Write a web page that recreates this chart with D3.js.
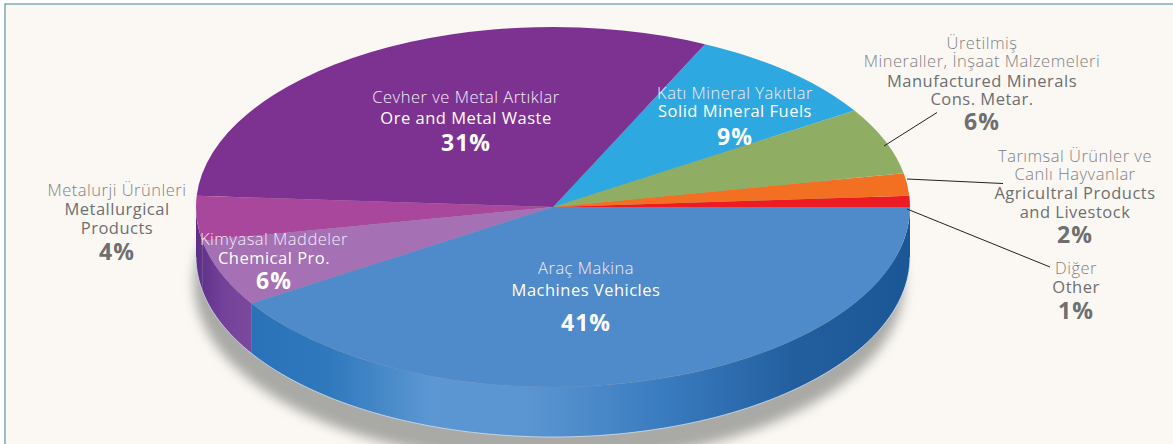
<!DOCTYPE html>
<html><head><meta charset="utf-8">
<style>html,body{margin:0;padding:0;background:#fff}svg{display:block}text{font-family:"Open Sans",Lato,sans-serif;text-anchor:middle}</style>
<script src="https://cdn.jsdelivr.net/npm/d3@7"></script></head>
<body><svg id="c" width="1173" height="444"></svg>
<script>
// Data, in drawing order (counter-clockwise from the right-hand edge)
const categories = ["Other","Agricultral Products and Livestock","Manufactured Minerals Cons. Metar.","Solid Mineral Fuels","Ore and Metal Waste","Metallurgical Products","Chemical Pro.","Machines Vehicles"];
const shares = [1,2,6,9,31,4,6,41];
const localNames = [["Diğer"],["Tarımsal Ürünler ve","Canlı Hayvanlar"],["Üretilmiş","Mineraller, İnşaat Malzemeleri"],["Katı Mineral Yakıtlar"],["Cevher ve Metal Artıklar"],["Metalurji Ürünleri"],["Kimyasal Maddeler"],["Araç Makina"]];
const englishNames = [["Other"],["Agricultral Products","and Livestock"],["Manufactured Minerals","Cons. Metar."],["Solid Mineral Fuels"],["Ore and Metal Waste"],["Metallurgical","Products"],["Chemical Pro."],["Machines Vehicles"]];
const sliceColors = ["#ed1c24","#f37021","#8fad63","#2fa8e1","#7d3192","#a9479c","#a56fb4","#4f8aca"];

const svg = d3.select("#c");
const W = 1173, H = 444, cx = 553, cy = 207, rx = 357, ry = 180, depth = 50;

// background & frame
svg.append("rect").attr("x",5).attr("y",4).attr("width",W).attr("height",H).attr("fill","#fbf8f3").attr("stroke","#5f98a3").attr("stroke-width",1.2);

const defs = svg.append("defs");
defs.append("filter").attr("id","shadowBlur").attr("filterUnits","userSpaceOnUse")
  .attr("x",100).attr("y",0).attr("width",950).attr("height",444+100)
  .append("feGaussianBlur").attr("stdDeviation",6);
defs.append("filter").attr("id","soft").append("feGaussianBlur").attr("stdDeviation",0.5);
const grad = (id,stops,x1,x2)=>{
  const g = defs.append("linearGradient").attr("id",id).attr("gradientUnits","userSpaceOnUse")
    .attr("x1",x1).attr("x2",x2).attr("y1",0).attr("y2",0);
  stops.forEach(s=>g.append("stop").attr("offset",s[0]).attr("stop-color",s[1]));
};
grad("wallBlue",[[0,"#2a72b8"],[0.12,"#3079bd"],[0.27,"#5c97d3"],[0.42,"#5a95d1"],[0.62,"#3a7cc0"],[0.82,"#235f9f"],[1,"#1b5797"]],252,911);
grad("wallPurple",[[0,"#5d2f86"],[0.5,"#75429a"],[1,"#7a4a9e"]],197,252);

// shadow
svg.append("ellipse").attr("cx",cx-4).attr("cy",cy+depth+26).attr("rx",rx-2).attr("ry",ry)
  .attr("fill","#a9a9a5").attr("filter","url(#shadowBlur)");

// pie layout: starts at the right-hand edge and runs counter-clockwise
const pie = d3.pie().value(d=>d).sort(null).startAngle(Math.PI/2).endAngle(Math.PI/2-2*Math.PI);
const slices = pie(shares);
const arc = d3.arc().innerRadius(0).outerRadius(rx);
const px = a => cx + rx*Math.sin(a), py = a => cy - ry*Math.cos(a);

// side wall: only the front half of the ellipse is visible
const wall = (a0,a1) => {
  const n = 60, pts = d3.range(n+1).map(i=>a0+(a1-a0)*i/n);
  const p = d3.path();
  pts.forEach((a,i)=> i? p.lineTo(px(a),py(a)) : p.moveTo(px(a),py(a)));
  pts.slice().reverse().forEach(a=>p.lineTo(px(a),py(a)+depth));
  p.closePath();
  return p.toString();
};
const frontLo = -3*Math.PI/2, frontHi = -Math.PI/2;
slices.forEach((s,i)=>{
  const a0 = Math.max(Math.min(s.startAngle,s.endAngle),frontLo);
  const a1 = Math.min(Math.max(s.startAngle,s.endAngle),frontHi);
  if (a1 > a0) {
    svg.append("path").attr("d",wall(a0,a1)).attr("fill", i===7 ? "url(#wallBlue)" : "url(#wallPurple)");
  }
});
// rim light along the bottom of the wall
const rim = d3.path();
d3.range(0,121).forEach(i=>{const a=frontLo+(frontHi-frontLo)*i/120; const x=px(a),y=py(a)+depth; i?rim.lineTo(x,y):rim.moveTo(x,y);});
svg.append("path").attr("d",rim.toString()).attr("fill","none").attr("stroke","#d6e6f4").attr("stroke-width",0.9).attr("opacity",0.8);

// top face
const face = svg.append("g").attr("transform",`translate(${cx},${cy}) scale(1,${ry/rx})`).attr("filter","url(#soft)");
face.selectAll("path").data(slices).join("path").attr("d",arc).attr("fill",(d,i)=>sliceColors[i]);

// leader lines
const leaders = [[884,146,937,112.5],[907,179,1003,183.5],[907,209,1050,267]];
svg.selectAll("line.l").data(leaders).join("line").attr("x1",d=>d[0]).attr("y1",d=>d[1]).attr("x2",d=>d[2]).attr("y2",d=>d[3]).attr("stroke","#222").attr("stroke-width",1);

// labels: slice index, centre x, baselines of each line, white or grey
const labelLayout = [
 {i:5,x:117,y:[196,215,234],py:260,w:0},
 {i:6,x:274,y:[245,264],py:289,w:1},
 {i:4,x:466,y:[103,124],py:151,w:1},
 {i:3,x:735,y:[99,117],py:145,w:1},
 {i:7,x:586,y:[274,296],py:331,w:1},
 {i:2,x:982,y:[49,67,86.5,105],py:130,w:0},
 {i:1,x:1075,y:[162,180,199,218],py:243,w:0},
 {i:0,x:1076,y:[274,293],py:319,w:0}
];
labelLayout.forEach(l=>{
  const lines = localNames[l.i].map(t=>({t,c:l.w?"#f5ecf5":"#7f8183",wt:300}))
    .concat(englishNames[l.i].map(t=>({t,c:l.w?"#ffffff":"#6d6f71",wt:400})));
  lines.forEach((ln,k)=>{
    svg.append("text").attr("x",l.x).attr("y",l.y[k]).attr("font-size",16.5).attr("letter-spacing",0.5).attr("font-weight",ln.wt).attr("fill",ln.c).text(ln.t);
  });
  svg.append("text").attr("x",l.x).attr("y",l.py).attr("font-size",23).attr("letter-spacing",1).attr("font-weight",700)
    .attr("fill",l.w?"#ffffff":"#6d6f71").text(shares[l.i]+"%");
});
</script></body></html>
